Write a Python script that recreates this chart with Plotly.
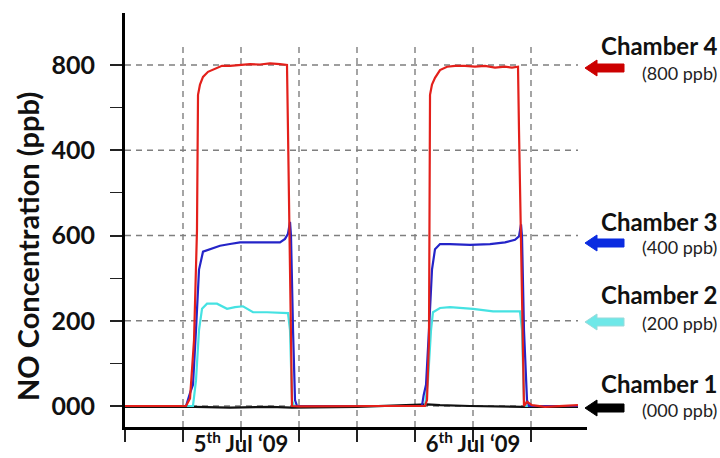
import plotly.graph_objects as go

# ---------------- data (x in tick units, y in axis-level units) ----------------
y_tick_vals = [0, 1, 2, 3, 4]
y_tick_text = ["000", "200", "600", "400", "800"]
x_tick_vals = [0, 1, 2, 3, 4, 5, 6, 7]
x_tick_text = ["", "", "<b>5<sup>th</sup> Jul ‘09</b>", "", "", "", "<b>6<sup>th</sup> Jul ‘09</b>", ""]

chamber4_x = [0, 0.5, 1.0, 1.052, 1.121, 1.19, 1.241, 1.259, 1.293, 1.345, 1.431, 1.552, 1.672,
              1.81, 1.983, 2.155, 2.328, 2.5, 2.672, 2.793, 2.81, 2.845, 2.879, 3.017, 3.6, 4.3,
              5.172, 5.207, 5.241, 5.259, 5.293, 5.345, 5.431, 5.552, 5.69, 5.862, 6.034, 6.207,
              6.38, 6.552, 6.672, 6.776, 6.793, 6.828, 6.879, 6.931, 7.017, 7.241, 7.5, 7.81]
chamber4_y = [0, 0.0, 0.0, 0, 0.09, 0.77, 2.06, 3.65, 3.77, 3.86, 3.92, 3.96, 3.99,
              3.99, 4.0, 4.01, 4.006, 4.02, 4.01, 4.0, 3.24, 1.71, 0, -0.005, 0.0, 0.0,
              0, 0.07, 0.77, 3.65, 3.77, 3.85, 3.94, 3.98, 3.99, 3.99, 3.98, 3.99,
              3.97, 3.98, 3.97, 3.98, 3.24, 1.71, 0, 0.05, 0.01, -0.01, 0.0, 0.01]

chamber3_x = [0, 1.052, 1.121, 1.172, 1.224, 1.276, 1.345, 1.466, 1.638, 1.81, 1.983, 2.328,
              2.672, 2.759, 2.81, 2.845, 2.862, 2.897, 2.931, 2.966, 5.12, 5.15, 5.19, 5.241,
              5.293, 5.345, 5.431, 5.603, 5.948, 6.293, 6.552, 6.724, 6.793, 6.828, 6.845,
              6.879, 6.931, 6.966, 7.81]
chamber3_y = [0, 0, 0.15, 0.25, 0.89, 1.6, 1.81, 1.84, 1.88, 1.9, 1.92, 1.92,
              1.92, 1.96, 2.02, 2.16, 2.0, 0.89, 0.07, 0, 0, 0.13, 0.25, 0.89,
              1.6, 1.84, 1.9, 1.9, 1.89, 1.9, 1.92, 1.95, 1.99, 2.13, 1.99,
              0.89, 0.07, 0, 0]

chamber2_x = [0, 1.172, 1.224, 1.276, 1.328, 1.414, 1.586, 1.759, 1.897, 2.034, 2.207, 2.448,
              2.81, 2.845, 2.879, 2.914, 5.172, 5.224, 5.276, 5.31, 5.431, 5.603, 6.0, 6.345,
              6.81, 6.845, 6.879, 6.914, 7.81]
chamber2_y = [0, 0, 0.3, 0.89, 1.14, 1.2, 1.2, 1.14, 1.16, 1.17, 1.1, 1.1,
              1.09, 0.89, 0.07, 0, 0, 0.3, 0.89, 1.1, 1.15, 1.16, 1.14, 1.11,
              1.11, 0.89, 0.07, 0, 0]

chamber1_x = [0, 1.207, 1.81, 2.5, 2.879, 4.0, 5.207, 5.431, 5.948, 6.466, 6.862, 7.81]
chamber1_y = [-0.01, -0.01, -0.02, -0.01, -0.02, -0.01, 0.02, 0.01, 0.0, -0.01, -0.01, -0.01]

labels = ["Chamber 4", "Chamber 3", "Chamber 2", "Chamber 1"]
sublabels = ["(800 ppb)", "(400 ppb)", "(200 ppb)", "(000 ppb)"]
colors = ["#e3201b", "#2424c8", "#45e2e2", "#111111"]
arrow_colors = ["#cc0000", "#0a2be0", "#6ee8e8", "#000000"]

# ---------------- layout geometry ----------------
W, H = 720, 458
L, R, T, B = 125, 587, 13, 427
PX_PER_X = 58.0
PX_PER_Y = 85.25
Y0_PX = 406.0


def px2paper(px, py):
    return (px - L) / (R - L), (B - py) / (B - T)


x_range = [0, (R - L) / PX_PER_X]
y_range = [(Y0_PX - B) / PX_PER_Y, (Y0_PX - T) / PX_PER_Y]

fig = go.Figure()

series = [(chamber1_x, chamber1_y, colors[3], "Chamber 1"),
          (chamber2_x, chamber2_y, colors[2], "Chamber 2"),
          (chamber3_x, chamber3_y, colors[1], "Chamber 3"),
          (chamber4_x, chamber4_y, colors[0], "Chamber 4")]
for xs, ys, c, n in series:
    fig.add_trace(go.Scatter(x=xs, y=ys, mode="lines", name=n,
                             line=dict(color=c, width=2.2), showlegend=False,
                             hoverinfo="skip"))

grid = dict(color="#7f7f7f", width=1.4, dash="6px,5px")
shapes = []
# horizontal dashed gridlines
for v in y_tick_vals:
    shapes.append(dict(type="line", xref="x", yref="y", x0=0, x1=(578 - L) / PX_PER_X,
                       y0=v, y1=v, line=grid, layer="below"))
# vertical dashed gridlines
for v in x_tick_vals[1:]:
    shapes.append(dict(type="line", xref="x", yref="y", x0=v, x1=v,
                       y0=y_range[0], y1=(Y0_PX - 43) / PX_PER_Y, line=grid, layer="below"))

# block arrows on the right
arrow_y_px = [68, 243, 322, 408]
for yc, ac in zip(arrow_y_px, arrow_colors):
    tip, back, end = 585, 597, 624
    hh, sh = 8, 4
    pts = [(tip, yc), (back, yc - hh), (back, yc - sh), (end, yc - sh),
           (end, yc + sh), (back, yc + sh), (back, yc + hh)]
    pp = [px2paper(a, b) for a, b in pts]
    path = "M " + " L ".join(f"{a:.5f},{b:.5f}" for a, b in pp) + " Z"
    line_col = "#9adada" if ac == "#6ee8e8" else ac
    shapes.append(dict(type="path", xref="paper", yref="paper", path=path,
                       fillcolor=ac, line=dict(color=line_col, width=1)))

annotations = []
label_y_px = [45, 221, 294, 383]
sub_y_px = [73, 247, 323, 410]
for lab, sub, ly, sy in zip(labels, sublabels, label_y_px, sub_y_px):
    x_p, y_p = px2paper(719, ly)
    annotations.append(dict(text=f"<b>{lab}</b>", x=x_p, y=y_p, xref="paper", yref="paper",
                            xanchor="right", yanchor="middle", showarrow=False,
                            font=dict(family="Lato", size=24, color="#111111")))
    x_p, y_p = px2paper(719, sy)
    annotations.append(dict(text=sub, x=x_p, y=y_p, xref="paper", yref="paper",
                            xanchor="right", yanchor="middle", showarrow=False,
                            font=dict(family="Lato", size=18, color="#222222")))

# y-axis title
tx, ty = px2paper(27, 247)
annotations.append(dict(text="<b>NO Concentration (ppb)</b>", x=tx, y=ty, xref="paper",
                        yref="paper", xanchor="center", yanchor="middle", textangle=-90,
                        showarrow=False, font=dict(family="Lato", size=29, color="#111111")))

fig.update_layout(
    width=W, height=H,
    margin=dict(l=L, r=W - R, t=T, b=H - B, pad=0, autoexpand=False),
    paper_bgcolor="white", plot_bgcolor="white",
    shapes=shapes, annotations=annotations,
    xaxis=dict(range=x_range, tickmode="array", tickvals=x_tick_vals, ticktext=x_tick_text,
               showgrid=False, zeroline=False, showline=True, linecolor="black", linewidth=3,
               ticks="outside", ticklen=12, tickwidth=1.6, tickcolor="#222222",
               tickfont=dict(family="Lato", size=22, color="#111111"),
               ticklabelstandoff=-16, automargin=False),
    yaxis=dict(range=y_range, tickmode="array", tickvals=y_tick_vals, ticktext=y_tick_text,
               showgrid=False, zeroline=False, showline=True, linecolor="black", linewidth=3,
               ticks="outside", ticklen=12, tickwidth=1.6, tickcolor="#222222",
               tickfont=dict(family="Lato", size=25, color="#111111", weight="bold"),
               ticklabelstandoff=10, automargin=False,
               minor=dict(tickvals=[0.5, 1.5, 2.5, 3.5], ticks="outside", ticklen=12,
                          tickwidth=1.4, tickcolor="#222222", showgrid=False)),
)

fig.write_html("out.html", config={"displayModeBar": False},
               post_script="document.body.style.margin='0';")
